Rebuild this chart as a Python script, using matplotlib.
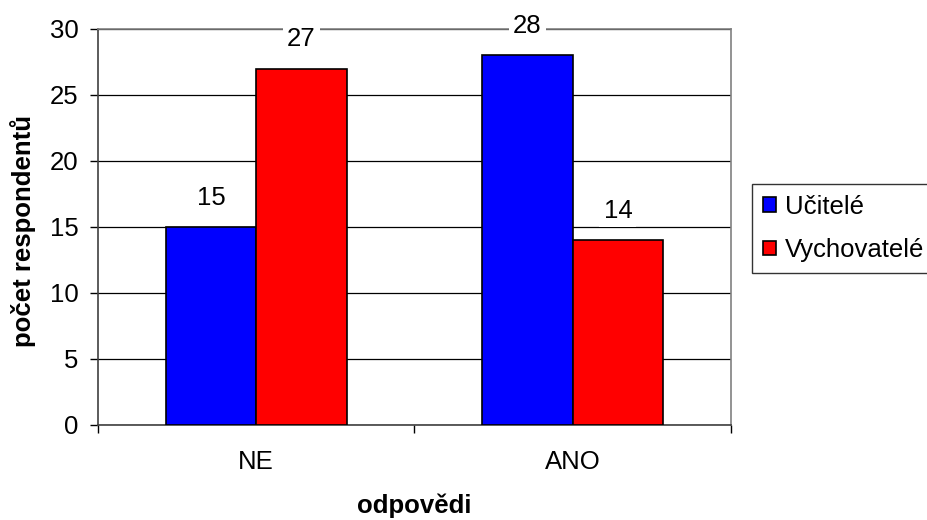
import matplotlib
matplotlib.use("Agg")
import matplotlib.pyplot as plt
import numpy as np

categories = ["NE", "ANO"]
series_names = ["Učitelé", "Vychovatelé"]
ucitele = [15, 28]
vychovatele = [27, 14]
y_ticks = [0, 5, 10, 15, 20, 25, 30]

plt.rcParams["font.family"] = ["Liberation Sans", "DejaVu Sans"]
FS = 18.5

fig = plt.figure(figsize=(9.28, 5.2), dpi=100)
ax = fig.add_axes([98 / 928, 1 - 425 / 520, 633 / 928, 396 / 520])

x = np.arange(len(categories))
w = 1 / 3.5
colors = ["#0000FF", "#FF0000"]
for i, (vals, name) in enumerate(zip([ucitele, vychovatele], series_names)):
    pos = x + (i - 0.5) * w
    ax.bar(pos, vals, width=w, color=colors[i], edgecolor="black",
           linewidth=1.2, label=name, zorder=3)
    for xp, v in zip(pos, vals):
        ax.annotate(str(v), (xp, v), xytext=(0, 21), textcoords="offset points",
                    ha="center", va="center", fontsize=FS, zorder=5,
                    bbox=dict(facecolor="white", edgecolor="none", pad=3))

ax.set_xlim(-0.5, len(categories) - 0.5)
ax.set_ylim(0, 30)
ax.set_yticks(y_ticks)
ax.tick_params(axis="y", direction="out", length=6, width=1, labelsize=FS, pad=8)
ax.yaxis.grid(True, color="black", linewidth=0.9, zorder=0)
ax.set_axisbelow(True)

ax.set_xticks(x)
ax.set_xticklabels(categories)
ax.tick_params(axis="x", which="major", length=0, labelsize=FS, pad=18)
ax.set_xticks(np.arange(-0.5, len(categories)), minor=True)
ax.tick_params(axis="x", which="minor", direction="out", length=6, width=1)

for side in ["top", "right"]:
    ax.spines[side].set_color("#808080")
    ax.spines[side].set_linewidth(1.2)
for side in ["left", "bottom"]:
    ax.spines[side].set_color("#404040")
    ax.spines[side].set_linewidth(1.2)

ax.set_ylabel("počet respondentů", fontsize=18.5, fontweight="bold", va="center")
ax.yaxis.set_label_coords((23 - 98) / 633, 0.49)
ax.set_xlabel("odpovědi", fontsize=18.5, fontweight="bold", va="center")
ax.xaxis.set_label_coords(0.5, -0.205)

leg = fig.legend(loc="upper left", bbox_to_anchor=(752 / 928, 1 - 184 / 520),
                 fontsize=FS, frameon=True, fancybox=False, handlelength=0.5,
                 handleheight=0.5, handletextpad=0.35, borderpad=0.42,
                 borderaxespad=0, labelspacing=0.75)
leg.get_frame().set_edgecolor("black")
leg.get_frame().set_linewidth(1.0)

fig.savefig("out.png", dpi=100)
